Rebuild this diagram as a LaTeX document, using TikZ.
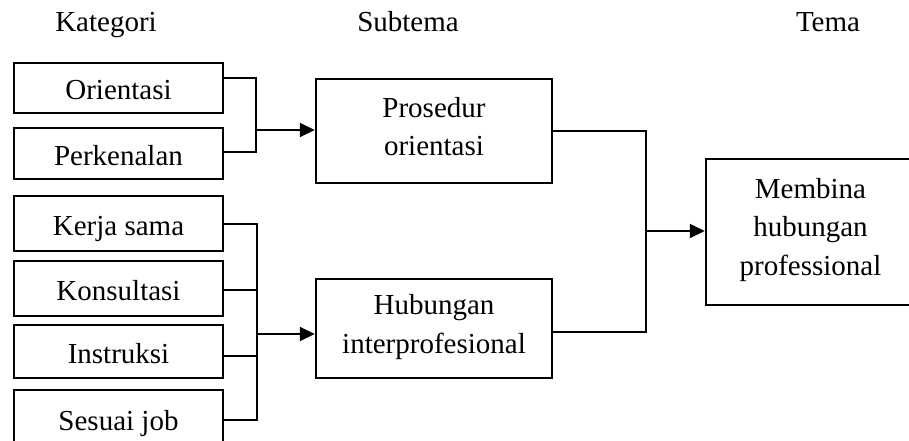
\documentclass[tikz,border=0pt]{standalone}
\usepackage{fontspec}
\setmainfont{Liberation Serif}
\usetikzlibrary{arrows.meta}
\begin{document}
\begin{tikzpicture}[x=1pt,y=-1pt,line width=2pt,
  box/.style={draw, line width=2.5pt, inner sep=0pt, font=\fontsize{29}{38.5}\selectfont, align=center},
  kat/.style={box, minimum width=209pt, text height=23pt, text depth=0pt},
  sub/.style={box, minimum width=236pt, text height=49pt, text depth=0pt},
  tema/.style={box, minimum width=209pt, text height=86pt, text depth=0pt},
  head/.style={anchor=base, inner sep=0pt, font=\fontsize{29}{38.5}\selectfont},
  arr/.style={-{Triangle[length=15pt,width=14pt]}}]
\useasboundingbox (0,0) rectangle (909,441);
% headers
\node[head] (hk) at (106,32) {Kategori};
\node[head] (hs) at (408,32) {Subtema};
\node[head] (ht) at (828,32) {Tema};
% categories
\node[kat, minimum height=50pt] (ori) at (118.5,88) {Orientasi};
\node[kat, minimum height=51pt] (per) at (118.5,153.5) {Perkenalan};
\node[kat, minimum height=55pt] (ker) at (118.5,223.5) {Kerja sama};
\node[kat, minimum height=55pt] (kon) at (118.5,288.5) {Konsultasi};
\node[kat, minimum height=53pt] (ins) at (118.5,351.5) {Instruksi};
\node[kat, minimum height=57pt] (ses) at (118.5,418.5) {Sesuai job};
% subthemes
\node[sub, minimum height=104pt] (pro) at (434,131) {Prosedur\\orientasi};
\node[sub, minimum height=99pt] (hub) at (434,328.5) {Hubungan\\interprofesional};
% theme
\node[tema, minimum height=146pt] (mem) at (810.5,232) {Membina\\hubungan\\professional};
% connectors
\coordinate (b1) at (256,130);
\draw ([yshift=10pt]ori.east) -| (b1) |- ([yshift=1.5pt]per.east);
\draw[arr] (b1) -- (b1 -| pro.west);
\coordinate (b2) at (257,334);
\draw (ker.east) -| (b2) |- ([yshift=-1.5pt]ses.east);
\draw ([yshift=-1.5pt]kon.east) -- ([yshift=-1.5pt]kon.east -| b2);
\draw ([yshift=-4.5pt]ins.east) -- ([yshift=-4.5pt]ins.east -| b2);
\draw[arr] (b2) -- (b2 -| hub.west);
\coordinate (b3) at (646,231);
\draw (pro.east) -| (b3) |- ([yshift=-3.5pt]hub.east);
\draw[arr] (b3) -- (b3 -| mem.west);
\end{tikzpicture}
\end{document}
